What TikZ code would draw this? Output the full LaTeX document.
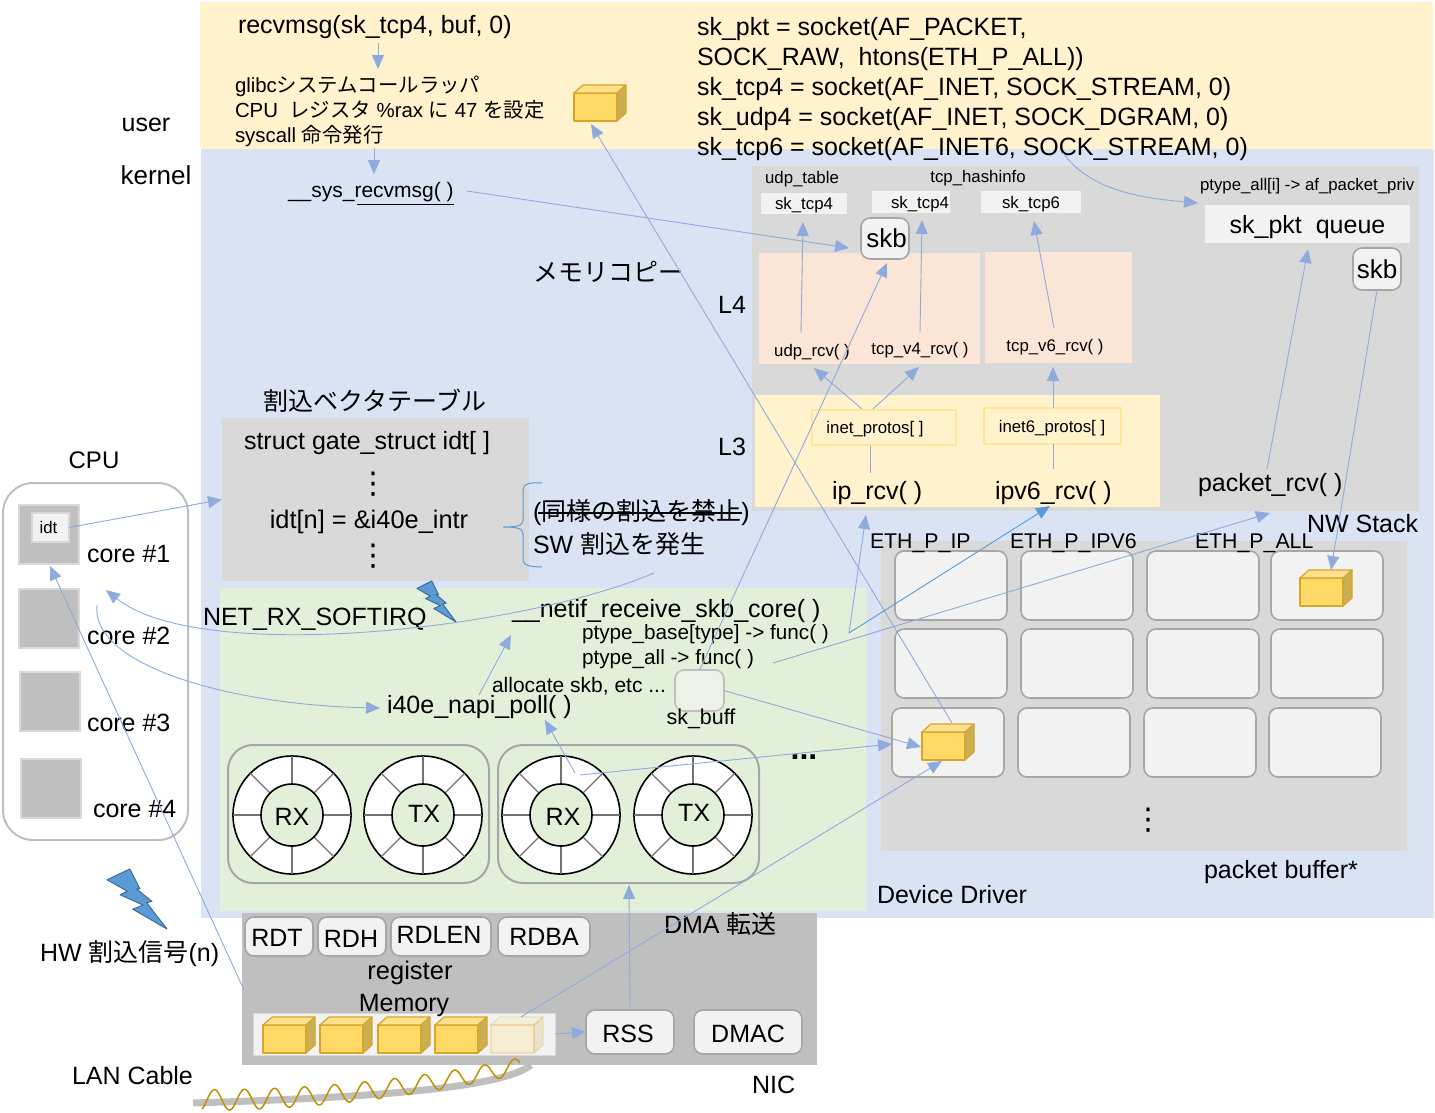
\documentclass[tikz,border=0pt]{standalone}
\usepackage{fontspec}
\setmainfont{Liberation Sans}
\newfontfamily\cjk{Noto Sans CJK JP}
\newfontfamily\dejavu{DejaVu Sans}
\newcommand{\jp}[1]{{\cjk #1}}
\usetikzlibrary{arrows.meta}

\definecolor{userbg}{HTML}{FFF2CC}
\definecolor{kernelbg}{HTML}{DAE3F3}
\definecolor{driverbg}{HTML}{E2F0D9}
\definecolor{stackbg}{HTML}{D9D9D9}
\definecolor{salmonbg}{HTML}{FBE5D6}
\definecolor{nicbg}{HTML}{BFBFBF}
\definecolor{paper}{HTML}{F2F2F2}
\definecolor{edgegray}{HTML}{A6A6A6}
\definecolor{flowblue}{HTML}{8FAADC}
\definecolor{boltblue}{HTML}{5B9BD5}
\definecolor{protoline}{HTML}{FFE699}
\definecolor{wavegold}{HTML}{BF9000}
\definecolor{cubefront}{HTML}{FFD966}
\definecolor{cubetop}{HTML}{FFE08C}
\definecolor{cubeside}{HTML}{CCAE52}
\definecolor{cubeline}{HTML}{D6A62C}

\tikzset{
  pktcube/.pic={
    \filldraw[fill=cubefront,draw=cubeline,line width=1.2pt,line join=round] (0,8) rectangle (43,36);
    \filldraw[fill=cubetop,draw=cubeline,line width=1.2pt,line join=round] (0,8) -- (9,0) -- (52,0) -- (43,8) -- cycle;
    \filldraw[fill=cubeside,draw=cubeline,line width=1.2pt,line join=round] (43,8) -- (52,0) -- (52,28) -- (43,36) -- cycle;
  },
  boltshape/.pic={
    \filldraw[fill=boltblue,draw=boltblue!70!black,line width=1pt,line join=round]
      (0,.18) -- (.38,0) -- (.55,.33) -- (.49,.33) -- (.75,.54) -- (.66,.56) -- (1,1)
      -- (.43,.67) -- (.6,.6) -- (.22,.43) -- (.34,.37) -- cycle;
  }
}

\begin{document}
\begin{tikzpicture}[x=1pt,y=-1pt,inner sep=0pt,outer sep=0pt,
                    >={Triangle[length=14pt,width=12pt]}]
  \tikzstyle{flow}=[->,color=flowblue,line width=.9pt]
  \tikzstyle{plain}=[color=flowblue,line width=.9pt]
  \tikzstyle{region}=[anchor=north west]
  \tikzstyle{card}=[rounded corners=9pt,fill=paper,draw=edgegray,line width=1.6pt]
  \tikzstyle{tbig}=[font=\fontsize{25}{30}\selectfont]
  \tikzstyle{tsml}=[font=\fontsize{20.7}{25}\selectfont]
  \tikzstyle{ttin}=[font=\fontsize{16.8}{20}\selectfont]
  \tikzstyle{teth}=[font=\fontsize{21.3}{26}\selectfont]
  \tikzstyle{vdot}=[font=\dejavu\fontsize{30}{30}\selectfont]

  \useasboundingbox (0,0) rectangle (1435,1112);

  % regions
  \node[region,fill=kernelbg,minimum width=1233pt,minimum height=769pt] (kernel) at (201,149) {};
  \node[region,fill=userbg,minimum width=1233pt,minimum height=147pt] (user) at (200,2) {};
  \node[region,fill=stackbg,minimum width=307pt,minimum height=163pt] (vectable) at (222,418) {};
  \node[region,fill=driverbg,minimum width=646pt,minimum height=323pt] (driver) at (220,588) {};
  \node[region,fill=stackbg,minimum width=667pt,minimum height=345pt] (stack) at (752,166) {};
  \node[region,fill=salmonbg,minimum width=221pt,minimum height=111pt] (lfourA) at (759,253) {};
  \node[region,fill=salmonbg,minimum width=147pt,minimum height=111pt] (lfourB) at (985,252) {};
  \node[region,fill=userbg,minimum width=405pt,minimum height=112pt] (lthree) at (755,395) {};
  \node[region,draw=protoline,line width=2pt,minimum width=144pt,minimum height=35pt] (inetbox) at (812,410) {};
  \node[region,draw=protoline,line width=2pt,minimum width=137pt,minimum height=36pt] (inetsixbox) at (984,408) {};
  \node[region,fill=stackbg,minimum width=526pt,minimum height=310pt] (pktbuf) at (881,541) {};
  \node[region,fill=nicbg,minimum width=575pt,minimum height=152pt] (nic) at (242,913) {};

  % socket tables
  \node[fill=paper,minimum width=86pt,minimum height=21pt,text depth=0pt,ttin] (tcpA) at (804,203.5) {sk\_tcp4};
  \node[fill=paper,minimum width=78pt,minimum height=22pt,text depth=0pt,ttin] (tcpB) at (911,202) {\hspace{18pt}sk\_tcp4};
  \node[fill=paper,minimum width=100pt,minimum height=22pt,text depth=0pt,ttin] (tcpC) at (1031,202) {sk\_tcp6};
  \node[fill=paper,minimum width=205pt,minimum height=38pt,text depth=0pt,tbig] (pktqueue) at (1307.5,224) {sk\_pkt\ \ queue};
  \node[card,minimum width=48pt,minimum height=41pt,font=\fontsize{26}{30}\selectfont] (skbA) at (885,238.5) {\hspace{3pt}skb};
  \node[card,minimum width=48pt,minimum height=42pt,font=\fontsize{26}{30}\selectfont] (skbB) at (1377,269) {skb};

  % packet buffer slots
  \foreach \x in {895,1021,1147,1271}
    \foreach \y in {551,629}
      \node[region,card,minimum width=112pt,minimum height=69pt] (slot\x\y) at (\x,\y) {};
  \foreach \x in {892,1018,1144,1269}
    \node[region,card,minimum width=112pt,minimum height=69pt] (slot\x) at (\x,708) {};

  % cores
  \node[draw=nicbg,rounded corners=30pt,fill=white,line width=2pt,region,minimum width=185pt,minimum height=357pt] (cpu) at (3,483) {};
  \foreach \n/\x/\y in {1/19/505,2/19/589,3/20/672,4/21/759}
    \node[region,fill=nicbg,draw=stackbg,line width=2pt,minimum width=60pt,minimum height=59pt] (core\n) at (\x,\y) {};
  \node[region,fill=paper,draw=stackbg,line width=2pt,minimum width=37pt,minimum height=29pt,ttin] (idtbox) at (32,513) {\hspace{-4pt}idt};

  % ring buffers
  \node[region,draw=edgegray,line width=2pt,rounded corners=25pt,minimum width=261pt,minimum height=138pt] (ringsA) at (228,745) {};
  \node[region,draw=edgegray,line width=2pt,rounded corners=25pt,minimum width=261pt,minimum height=138pt] (ringsB) at (498,745) {};
  \foreach \cx/\lx/\ly/\lbl in {292/292/817/RX,423/424/814/TX,561/563/817/RX,693/694/813/TX} {
    \node[circle,fill=white,draw=black,line width=1.6pt,minimum size=118pt] (ring\cx) at (\cx,815) {};
    \foreach \a in {0,45,...,315}
      \draw[black!55,line width=1.2pt] (\cx,815) ++(\a:31) -- ++(\a:28);
    \node[circle,fill=driverbg,draw=black,line width=1.6pt,minimum size=62pt] (hub\cx) at (\cx,815) {};
    \node[tbig] (lbl\cx) at (\lx,\ly) {\lbl};
  }

  % sk_buff and NIC blocks
  \node[card,fill=paper!70!driverbg,draw=nicbg,minimum width=49pt,minimum height=41pt] (skbuff) at (699.5,690.5) {};
  \node[card,minimum width=68pt,minimum height=39pt] (rdt) at (279,936.5) {};
  \node[tbig] (rdtlbl) at (277,938) {RDT};
  \node[card,minimum width=68pt,minimum height=39pt] (rdh) at (352,936.5) {};
  \node[tbig] (rdhlbl) at (351,939) {RDH};
  \node[card,minimum width=100pt,minimum height=39pt] (rdlen) at (441,936.5) {};
  \node[tbig] (rdlenlbl) at (439,935) {RDLEN};
  \node[card,minimum width=92pt,minimum height=39pt,tbig] (rdba) at (544,936.5) {RDBA};
  \node[fill=paper,draw=paper!90!black,minimum width=302pt,minimum height=42pt] (rxqueue) at (404,1034) {};
  \node[card,minimum width=88pt,minimum height=44pt,text height=22pt,tbig] (rssbox) at (630,1032) {\hspace{-4pt}RSS};
  \node[card,minimum width=108pt,minimum height=44pt,text height=22pt,tbig] (dmacbox) at (748,1032) {DMAC};

  % packets
  \pic at (574,85) {pktcube};
  \pic at (1300,570) {pktcube};
  \pic at (922,724) {pktcube};
  \foreach \x in {263,320,378,435}
    \pic at (\x,1017) {pktcube};
  \pic[opacity=.22] at (491,1017) {pktcube};

  % cable and signal
  \draw[nicbg,line width=7pt] (193,1103) .. controls (350,1098) and (500,1090) .. (531,1065);
  \draw[wavegold,line width=1.5pt,smooth] plot[domain=0:1,samples=260]
    ({202+318*\x},{1100-34*\x*\x-(10.5-2.5*\x)*sin(360*10.6*\x-60)});

  \pic[xscale=39,yscale=41] at (417,581) {boltshape};
  \pic[xscale=60,yscale=60] at (107,869) {boltshape};

  % labels
  \node[tbig,anchor=west] (recvcall) at (238,27) {recvmsg(sk\_tcp4, buf, 0)};
  \node[font=\fontsize{20.4}{25}\selectfont,anchor=west,align=left] (glibc) at (235,111) {glibc\jp{システムコールラッパ}\\CPU\ \ \jp{レジスタ} \%rax \jp{に} 47 \jp{を設定}\\syscall \jp{命令発行}};
  \node[tbig,anchor=west,align=left] (socks) at (697,89) {sk\_pkt = socket(AF\_PACKET,\\SOCK\_RAW,\ \ htons(ETH\_P\_ALL))\\sk\_tcp4 = socket(AF\_INET, SOCK\_STREAM, 0)\\sk\_udp4 = socket(AF\_INET, SOCK\_DGRAM, 0)\\sk\_tcp6 = socket(AF\_INET6, SOCK\_STREAM, 0)};
  \node[tbig] (userlbl) at (146,125) {user};
  \node[font=\fontsize{26}{30}\selectfont] (kernlbl) at (156,175) {kernel};
  \node[font=\fontsize{21}{25}\selectfont,anchor=west] (sysrecv) at (288,192) {\_\_sys\_recvmsg( )};
  \node[tbig,anchor=west] (memcopy) at (533,272) {\jp{メモリコピー}};
  \node[tbig] (lfourlbl) at (732,305) {L4};
  \node[tbig] (lthreelbl) at (732,447) {L3};
  \node[tbig] (vectitle) at (375,401) {\jp{割込ベクタテーブル}};
  \node[tbig] (idtdecl) at (367,443) {struct gate\_struct idt[ ]};
  \node[vdot] (vdotA) at (373,484) {⋮};
  \node[font=\fontsize{25.4}{30}\selectfont] (idtentry) at (369,522) {idt[n] = \&i40e\_intr};
  \node[vdot] (vdotB) at (373,556) {⋮};
  \node[tbig,anchor=west] (maskirq) at (533,513) {(\jp{同様の割込を禁止})};
  \node[tbig,anchor=west] (raisesw) at (533,544) {SW \jp{割込を発生}};
  \node[tbig,anchor=west] (softirq) at (203,619) {NET\_RX\_SOFTIRQ};
  \node[tbig,anchor=west] (netifcore) at (512,611) {\_\_netif\_receive\_skb\_core( )};
  \node[tsml,anchor=west] (ptypebase) at (582,634.5) {ptype\_base[type] -> func( )};
  \node[tsml,anchor=west] (ptypeall) at (582,659) {ptype\_all -> func( )};
  \node[font=\fontsize{21}{25}\selectfont,anchor=west] (allocskb) at (492,686) {allocate skb, etc ...};
  \node[tbig,anchor=west] (napipoll) at (387,707) {i40e\_napi\_poll( )};
  \node[font=\fontsize{21.5}{25}\selectfont] (skbufflbl) at (701,719) {sk\_buff};
  \node[font=\bfseries\fontsize{32}{32}\selectfont,anchor=base] (moredots) at (804,759) {...};
  \node[font=\fontsize{24}{29}\selectfont] (cpulbl) at (94,460) {CPU};
  \node[tbig,anchor=west] (coreA) at (87,554) {core \#1};
  \node[tbig,anchor=west] (coreB) at (87,636) {core \#2};
  \node[tbig,anchor=west] (coreC) at (87,723) {core \#3};
  \node[tbig,anchor=west] (coreD) at (93,809) {core \#4};
  \node[tbig,anchor=west] (hwirq) at (40,954) {HW \jp{割込信号}(n)};
  \node[font=\fontsize{25.5}{30}\selectfont] (reglbl) at (410,973) {register};
  \node[tbig] (memlbl) at (404,1005) {Memory};
  \node[tbig,anchor=west] (dmalbl) at (664,924) {DMA \jp{転送}};
  \node[tbig,anchor=west] (lancable) at (72,1076) {LAN Cable};
  \node[tbig,anchor=west] (niclbl) at (752,1085) {NIC};
  \node[tbig,anchor=west] (devdrv) at (877,895) {Device Driver};
  \node[tbig,anchor=west] (pktbuflbl) at (1204,872) {packet buffer*};
  \node[vdot] (vdotC) at (1148,820) {⋮};
  \node[teth,anchor=west] (ethip) at (870,543) {ETH\_P\_IP};
  \node[teth,anchor=west] (ethipsix) at (1010,543) {ETH\_P\_IPV6};
  \node[teth,anchor=west] (ethall) at (1195,543) {ETH\_P\_ALL};
  \node[tbig,anchor=west] (nwstack) at (1307,524) {NW Stack};
  \node[tbig,anchor=west] (packetrcv) at (1198,485) {packet\_rcv( )};
  \node[tbig,anchor=west] (iprcv) at (832,493) {ip\_rcv( )};
  \node[tbig,anchor=west] (ipsixrcv) at (995,493) {ipv6\_rcv( )};
  \node[ttin] (inetlbl) at (875,429) {inet\_protos[ ]};
  \node[ttin] (inetsixlbl) at (1052,428) {inet6\_protos[ ]};
  \node[ttin] (udprcv) at (812,352) {udp\_rcv( )};
  \node[ttin] (tcpfourrcv) at (920,350) {tcp\_v4\_rcv( )};
  \node[ttin] (tcpsixrcv) at (1055,347) {tcp\_v6\_rcv( )};
  \node[ttin] (udptable) at (802,179) {udp\_table};
  \node[ttin] (tcphash) at (978,178) {tcp\_hashinfo};
  \node[ttin,anchor=west] (ptypepriv) at (1200,186.5) {ptype\_all[i] -> af\_packet\_priv};

  \draw[black,line width=1.4pt] (sysrecv.south east) ++(0,3) -- ++(-97,0);
  \draw[black,line width=1.1pt] ([xshift=5pt]maskirq.west) -- ([xshift=-8pt]maskirq.east);
  \draw[boltblue,line width=1pt] (542,483) .. controls (530,482) and (523,484) .. (523,490) -- (523,520)
    .. controls (523,526) and (516,527) .. (503,527) .. controls (516,527) and (523,528) .. (523,534)
    -- (523,560) .. controls (523,565) and (530,567) .. (542,567);

  % connector ends
  \coordinate (callOut) at (378,43);
  \coordinate (glibcIn) at (378,69);
  \coordinate (glibcOut) at (374,148);
  \coordinate (sysIn) at (374,174);
  \coordinate (sysOut) at (467,191);
  \coordinate (skbIn) at (849,248);
  \coordinate (slotOut) at (952,723);
  \coordinate (userIn) at (591,124);
  \coordinate (slotIn) at (921,747);
  \coordinate (ringTap) at (580,775);
  \coordinate (slotEdge) at (892,744);
  \coordinate (ringOut) at (575,773);
  \coordinate (pollIn) at (545,720);
  \coordinate (pollOut) at (479,695);
  \coordinate (coreIn) at (511,635);
  \coordinate (queueOut) at (521,1017);
  \coordinate (cubeBelow) at (942,761);
  \coordinate (ringsIn) at (629,885);
  \coordinate (nicOut) at (244,990);
  \coordinate (coreOneIn) at (50,566);
  \coordinate (softOut) at (654,573);
  \coordinate (softIn) at (106,590);
  \coordinate (coreTwoOut) at (97,605);
  \coordinate (pollEdge) at (380,708);
  \coordinate (skbBelow) at (887,263);
  \coordinate (fork) at (849,633);
  \coordinate (ipIn) at (866,515);
  \coordinate (ipsixIn) at (1050,506);
  \coordinate (allOut) at (773,663);
  \coordinate (allIn) at (1270,513);
  \coordinate (cubeTop) at (1331,570);
  \coordinate (rcvOut) at (1267,469);
  \coordinate (pktIn) at (1308,249);
  \coordinate (sockOut) at (1063,153);
  \coordinate (sockIn) at (1198,203);
  \coordinate (udpOut) at (801,333);
  \coordinate (udpIn) at (803,222);
  \coordinate (tcpOut) at (920,332);
  \coordinate (tcpIn) at (922,220);
  \coordinate (sixOut) at (1054,328);
  \coordinate (sixIn) at (1034,221);
  \coordinate (inetA) at (862,409);
  \coordinate (udpBelow) at (814,368);
  \coordinate (inetB) at (873,409);
  \coordinate (tcpBelow) at (919,367);
  \coordinate (inetsixOut) at (1053,408);
  \coordinate (sixBelow) at (1053,367);
  \coordinate (ipTop) at (870,473);
  \coordinate (inetBottom) at (870,446);
  \coordinate (ipsixTop) at (1053,469);
  \coordinate (inetsixBottom) at (1053,444);

  % connectors
  \path[flow] (callOut) edge (glibcIn)
        (glibcOut) edge (sysIn)
        (sysOut) edge (skbIn)
        (slotOut) edge (userIn)
        (skbuff.east) edge (slotIn)
        (ringTap) edge (slotEdge)
        (ringOut) edge (pollIn)
        (pollOut) edge (coreIn)
        (queueOut) edge (cubeBelow)
        (rssbox.north) edge (ringsIn)
        (rxqueue.east) edge (rssbox.west)
        (nicOut) edge (coreOneIn)
        (idtbox.east) edge (vectable.west)
        (skbuff.north) edge (skbBelow)
        (fork) edge (ipIn)
        (fork) edge[boltblue] (ipsixIn)
        (allOut) edge (allIn)
        (skbB.south) edge (cubeTop)
        (rcvOut) edge (pktIn)
        (udpOut) edge (udpIn)
        (tcpOut) edge (tcpIn)
        (sixOut) edge (sixIn)
        (inetA) edge (udpBelow)
        (inetB) edge (tcpBelow)
        (inetsixOut) edge (sixBelow);
  \path[plain] (ipTop) edge (inetBottom)
        (ipsixTop) edge (inetsixBottom);
  \draw[flow] (softOut) .. controls (520,630) and (200,665) .. (softIn);
  \draw[flow] (coreTwoOut) .. controls (90,665) and (230,705) .. (pollEdge);
  \draw[flow] (sockOut) .. controls (1090,190) and (1140,198) .. (sockIn);

\end{tikzpicture}
\end{document}
